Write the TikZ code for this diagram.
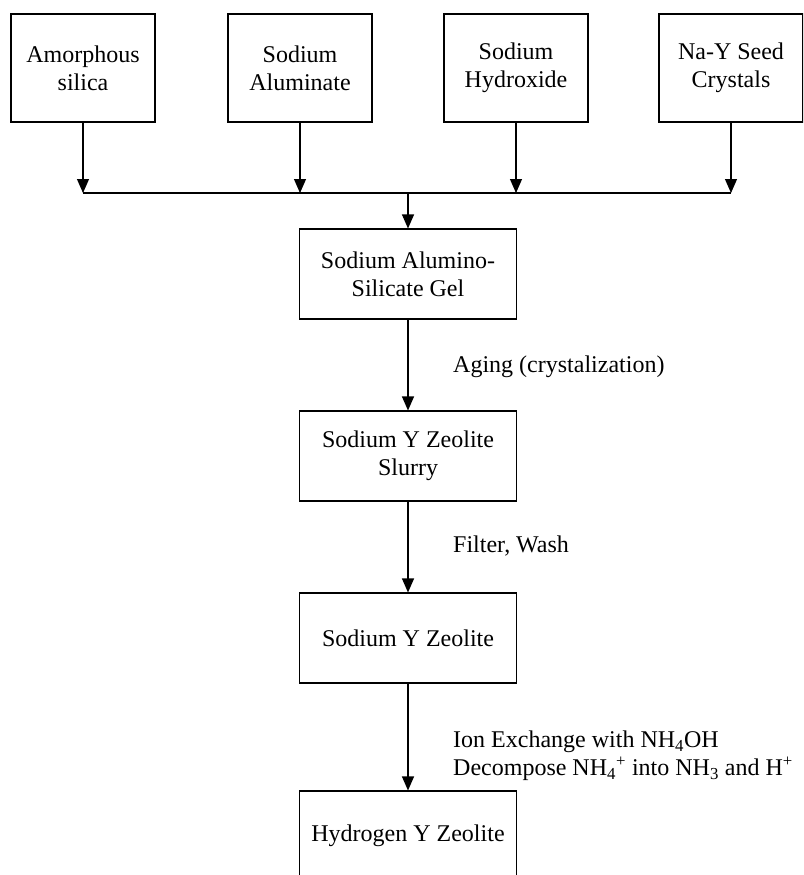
\documentclass[tikz,border=0pt]{standalone}
\usepackage{fontspec}
\setmainfont{Liberation Serif}
\usetikzlibrary{arrows.meta}
\tikzset{
  topbox/.style={draw, line width=1.1pt, minimum width=144pt, minimum height=108pt, align=center, inner sep=0pt},
  midbox/.style={draw, line width=1.1pt, minimum width=217pt, minimum height=90pt, align=center, inner sep=0pt},
  conn/.style={line width=1.1pt},
  arr/.style={line width=1.1pt, -{Triangle[length=14pt,width=12pt]}},
  lbl/.style={anchor=west, align=left, inner sep=0pt}
}
\begin{document}
\begin{tikzpicture}[x=1pt,y=-1pt,font=\fontsize{24}{27.6}\selectfont]
\useasboundingbox (0,0) rectangle (803,875);
\clip (0,0) rectangle (803,875);
% top boxes
\node[topbox] (b1) at (83,68) {Amorphous\\silica};
\node[topbox] (b2) at (300,68) {Sodium\\Aluminate};
\node[topbox] (b3) at (516,68) {Sodium\\Hydroxide};
\node[topbox] (b4) at (731,68) {Na-Y Seed\\Crystals};
% junction
\coordinate (j1) at (83,193);
\coordinate (j2) at (300,193);
\coordinate (j3) at (516,193);
\coordinate (j4) at (731,193);
\coordinate (jc) at (408,193);
\draw[arr] (b1.south) -- (j1);
\draw[arr] (b2.south) -- (j2);
\draw[arr] (b3.south) -- (j3);
\draw[arr] (b4.south) -- (j4);
\draw[conn] (j1) -- (j4);
% main chain
\node[midbox] (gel) at (408,274) {Sodium Alumino-\\Silicate Gel};
\node[midbox] (slurry) at (408,456) {Sodium Y Zeolite\\Slurry};
\node[midbox] (nay) at (408,638) {Sodium Y Zeolite};
\node[midbox] (hy) at (408,836) {Hydrogen Y Zeolite};
\draw[arr] (jc) -- (gel.north);
\draw[arr] (gel.south) -- (slurry.north);
\draw[arr] (slurry.south) -- (nay.north);
\draw[arr] (nay.south) -- (hy.north);
% labels
\node[lbl] (l1) at (453,367) {Aging (crystalization)};
\node[lbl] (l2) at (453,546) {Filter, Wash};
\node[lbl] (l3) at (453,756) {Ion Exchange with NH\textsubscript{4}OH\\Decompose NH\textsubscript{4}\textsuperscript{+} into NH\textsubscript{3} and H\textsuperscript{+}};
\end{tikzpicture}
\end{document}
